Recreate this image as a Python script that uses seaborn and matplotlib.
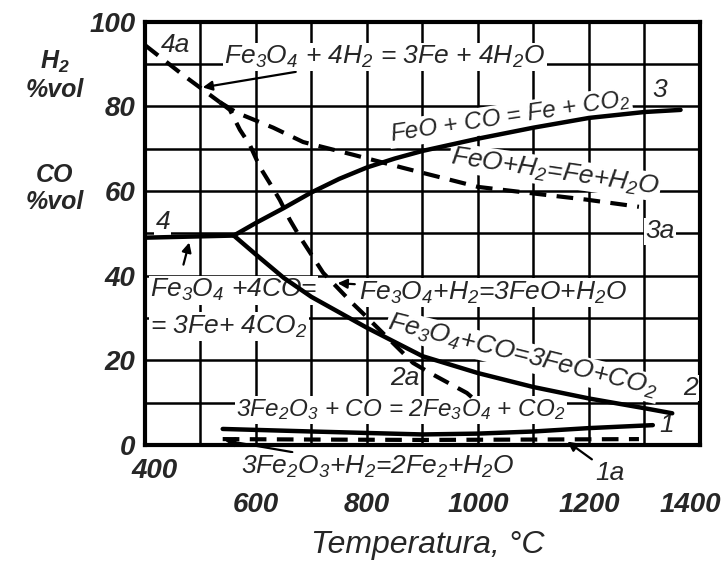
import matplotlib
matplotlib.use("Agg")
import matplotlib.pyplot as plt
import matplotlib.transforms as mtransforms
import seaborn as sns

# curve 1: 3Fe2O3 + CO = 2Fe3O4 + CO2 (solid)
t1 = [540, 700, 900, 1000, 1100, 1200, 1315]
c1 = [3.8, 3.2, 2.5, 2.7, 3.2, 4.0, 4.7]
# curve 1a: 3Fe2O3 + H2 (dashed)
t1a = [540, 700, 900, 1100, 1290]
c1a = [1.4, 1.3, 1.2, 1.3, 1.4]
# curve 2: Fe3O4 + CO = 3FeO + CO2 (solid)
t2 = [560, 600, 650, 700, 800, 900, 1000, 1100, 1200, 1300, 1350]
c2 = [49.5, 45, 39.5, 35, 27.7, 21, 17, 13.7, 11, 8.7, 7.5]
# curve 2a: Fe3O4 + H2 = 3FeO + H2O (dashed)
t2a = [535, 553, 571, 589, 607, 629, 643, 661, 679, 721, 773, 796, 883, 914, 980, 995]
c2a = [81, 79.2, 74.5, 70.9, 65.7, 61, 57.9, 53.2, 49.2, 40.7, 33.6, 30.7, 19.4, 17, 12.3, 10.6]
# curve 3: FeO + CO = Fe + CO2 (solid)
t3 = [560, 600, 650, 700, 750, 800, 850, 900, 1000, 1100, 1200, 1300, 1365]
c3 = [49.5, 52.5, 56, 59.7, 62.9, 65.6, 67.7, 69.5, 72.4, 75, 77.3, 78.7, 79.2]
# curve 3a: FeO + H2 = Fe + H2O (dashed)
t3a = [535, 566, 631, 685, 775, 865, 940, 1000, 1090, 1195, 1290]
c3a = [81, 78.5, 75, 71.6, 68.6, 65.5, 63, 61, 59.6, 58, 56.3]
# curve 4: Fe3O4 + 4CO = 3Fe + 4CO2 (solid)
t4 = [400, 560]
c4 = [49, 49.5]
# curve 4a: Fe3O4 + 4H2 = 3Fe + 4H2O (dashed)
t4a = [400, 470, 535]
c4a = [94.5, 87.3, 81]

xticks = [400, 600, 800, 1000, 1200, 1400]
yticks = [0, 20, 40, 60, 80, 100]

sns.set_theme(style="white")
plt.rcParams["font.family"] = ["Liberation Sans", "DejaVu Sans"]
plt.rcParams["font.style"] = "italic"
plt.rcParams["mathtext.default"] = "regular"

fig = plt.figure(figsize=(7.25, 5.68), dpi=100)
ax = fig.add_axes([0.2, 0.2165, 0.7655, 0.745])

solid = [(t1, c1), (t2, c2), (t3, c3), (t4, c4)]
dashed = [(t1a, c1a), (t2a, c2a), (t3a, c3a), (t4a, c4a)]
for t, c in solid:
    sns.lineplot(x=t, y=c, ax=ax, color="black", lw=3.2, zorder=5)
for t, c in dashed:
    sns.lineplot(x=t, y=c, ax=ax, color="black", lw=3, zorder=5,
                 linestyle=(0, (4, 2.5)))

ax.set_xlim(400, 1400)
ax.set_ylim(0, 100)
ax.set_xticks(xticks)
ax.set_xticks(range(400, 1401, 100), minor=True)
ax.set_yticks(yticks)
ax.set_yticks(range(0, 101, 10), minor=True)
ax.set_xticklabels([str(v) for v in xticks], fontsize=20, fontweight="bold")
ax.set_yticklabels([str(v) for v in yticks], fontsize=20, fontweight="bold")
ax.grid(which="both", color="black", lw=1.8)
ax.set_axisbelow(True)
ax.tick_params(which="both", length=0)
ax.tick_params(axis="y", pad=7)
ax.tick_params(axis="x", pad=34)
ax.xaxis.get_major_ticks()[0].set_pad(9)
# shift end labels like in the scan
lbls = ax.get_xticklabels()
lbls[0].set_transform(lbls[0].get_transform()
                      + mtransforms.ScaledTranslation(0.1, 0, fig.dpi_scale_trans))
lbls[-1].set_transform(lbls[-1].get_transform()
                       + mtransforms.ScaledTranslation(-0.1, 0, fig.dpi_scale_trans))
for s in ax.spines.values():
    s.set_color("black")
    s.set_linewidth(3)

box = dict(facecolor="white", edgecolor="none", pad=1)
arr = dict(arrowstyle="-|>", color="black", lw=1.6, mutation_scale=14)
eq = dict(fontsize=19, ha="center", va="center", bbox=box, zorder=3)

ax.text(454, 94.6, "4a", **eq)
ax.annotate(r"Fe$_3$O$_4$ + 4H$_2$ = 3Fe + 4H$_2$O", xy=(499, 84.4),
            xytext=(832, 91.7), arrowprops=arr, **eq)
ax.text(1328, 84, "3", **eq)
ax.text(1058, 77.5, r"FeO + CO = Fe + CO$_2$", rotation=8.5,
        **{**eq, "fontsize": 17.5})
ax.text(1139, 64.5, r"FeO+H$_2$=Fe+H$_2$O", rotation=-8.4, **eq)
ax.text(1328, 50.5, "3a", **eq)
ax.text(432, 52.7, "4", **eq)
ax.text(409, 36.6, r"Fe$_3$O$_4$ +4CO=", **{**eq, "ha": "left"})
ax.text(409, 28, r"= 3Fe+ 4CO$_2$", **{**eq, "ha": "left"})
ax.annotate("", xy=(481, 48.5), xytext=(468, 42), arrowprops=arr)
ax.annotate(r"Fe$_3$O$_4$+H$_2$=3FeO+H$_2$O", xy=(742, 38.3),
            xytext=(1027, 36), arrowprops=arr, **eq)
ax.text(1081, 21, r"Fe$_3$O$_4$+CO=3FeO+CO$_2$", rotation=-14, **eq)
ax.text(1382, 13.5, "2", **eq)
ax.text(868, 15.8, "2a", **eq)
ax.text(861, 8.3, r"3Fe$_2$O$_3$ + CO = 2Fe$_3$O$_4$ + CO$_2$",
        **{**eq, "fontsize": 17.5})
ax.text(1340, 4.7, "1", **eq)
ax.annotate(r"3Fe$_2$O$_3$+H$_2$=2Fe$_2$+H$_2$O", xy=(539, 1.2),
            xytext=(820, -5.2), arrowprops=arr, annotation_clip=False, **eq)
ax.annotate("1a", xy=(1157, 1.2), xytext=(1238, -6.5), arrowprops=arr,
            annotation_clip=False, **eq)

lab = dict(fontsize=18, fontweight="bold", ha="center", va="center")
fig.text(55 / 725, 1 - 62 / 568, r"H$_2$", **lab)
fig.text(55 / 725, 1 - 90 / 568, "%vol", **lab)
fig.text(55 / 725, 1 - 175 / 568, "CO", **lab)
fig.text(55 / 725, 1 - 202 / 568, "%vol", **lab)
fig.text(428 / 725, 1 - 545 / 568, "Temperatura, °C", fontsize=23,
         ha="center", va="center")

fig.savefig("out.png", dpi=100)
